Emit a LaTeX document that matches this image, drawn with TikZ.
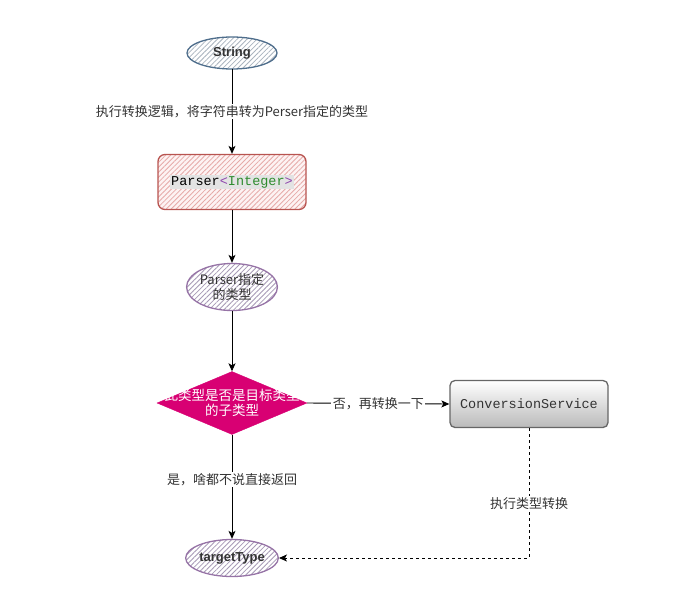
\documentclass[tikz,border=0pt]{standalone}
\usepackage{fontspec}
\setmainfont{Liberation Sans}
\setmonofont{Liberation Mono}
\newfontfamily\cjk{Noto Sans CJK SC}
\usetikzlibrary{shapes.geometric,patterns.meta,arrows.meta}
\definecolor{strB}{HTML}{4F6E8C}
\definecolor{strH}{HTML}{A9B3BE}
\definecolor{redB}{HTML}{B85450}
\definecolor{redH}{HTML}{E6AAA8}
\definecolor{redF}{HTML}{FDF3F3}
\definecolor{purB}{HTML}{9673A6}
\definecolor{purH}{HTML}{A79AB6}
\definecolor{mag}{HTML}{D80073}
\definecolor{grayB}{HTML}{666666}
\definecolor{txt}{HTML}{333333}
\definecolor{hl}{HTML}{E3E3E3}
\definecolor{kwP}{HTML}{8E44AD}
\definecolor{kwG}{HTML}{2E8B2E}
\tikzset{
  hatchfill/.style 2 args={preaction={fill=#2}, pattern={Lines[angle=45,distance=3.5pt,line width=0.8pt]}, pattern color=#1},
  ell/.style={ellipse, inner sep=0pt, line width=1.3pt},
  conn/.style={draw=black, line width=0.9pt, -{Stealth[length=8pt,width=7pt,inset=2pt]}},
  lbl/.style={fill=white, inner sep=1.5pt, text=txt, font=\cjk\fontsize{13}{15}\selectfont},
}
\begin{document}
\begin{tikzpicture}[x=1pt,y=1pt]
\useasboundingbox (0,0) rectangle (678,-603);
% nodes
\node[ell, draw=strB, hatchfill={strH}{white}, minimum width=90pt, minimum height=32pt, font=\bfseries\fontsize{13}{15}\selectfont, text=txt] (s) at (232,-53) {String};
\node[draw=redB, line width=1.3pt, rounded corners=7pt, hatchfill={redH}{redF}, minimum width=148pt, minimum height=55pt, inner sep=0pt] (p) at (232,-182)
  {\fontsize{13.5}{15}\selectfont\ttfamily\setlength{\fboxsep}{1pt}\colorbox{hl}{Parser{\color{kwP}<}{\color{kwG}Integer}{\color{kwP}>}}};
\node[ell, draw=purB, hatchfill={purH}{white}, minimum width=80pt, minimum height=47pt, align=center, font=\cjk\fontsize{13}{14.5}\selectfont, text=txt] (pt) at (232,-287) {Parser指定\\的类型};
\node[diamond, fill=mag, draw=mag, minimum width=150pt, minimum height=63pt, inner sep=0pt, aspect=2.4] (d) at (232,-403) {};
\node[align=center, text=white, font=\cjk\fontsize{13.5}{15}\selectfont] (dt) at (232,-403) {此类型是否是目标类型\\的子类型};
\node[draw=grayB, line width=1.3pt, rounded corners=5pt, top color=white, bottom color=black!27, minimum width=158pt, minimum height=47pt, inner sep=0pt, font=\ttfamily\fontsize{13.5}{15}\selectfont, text=txt] (cs) at (529,-404) {ConversionService};
\node[ell, draw=purB, hatchfill={purH}{white}, minimum width=82pt, minimum height=37pt, font=\bfseries\fontsize{13}{15}\selectfont, text=txt] (t) at (232,-558) {targetType};
% connectors
\draw[conn] (s) -- node[lbl] (l1) {执行转换逻辑，将字符串转为Perser指定的类型} (p);
\draw[conn] (p) -- (pt);
\draw[conn] (pt) -- (d);
\draw[conn] (d.east) -- node[lbl] (l2) {否，再转换一下} (cs.west);
\draw[conn] (d.south) -- node[lbl, pos=0.43] (l3) {是，啥都不说直接返回} (t);
\draw[conn, dashed, dash pattern=on 3pt off 3pt] (cs.south) |- node[lbl, pos=0.29] (l4) {执行类型转换} (t.east);
\end{tikzpicture}
\end{document}
